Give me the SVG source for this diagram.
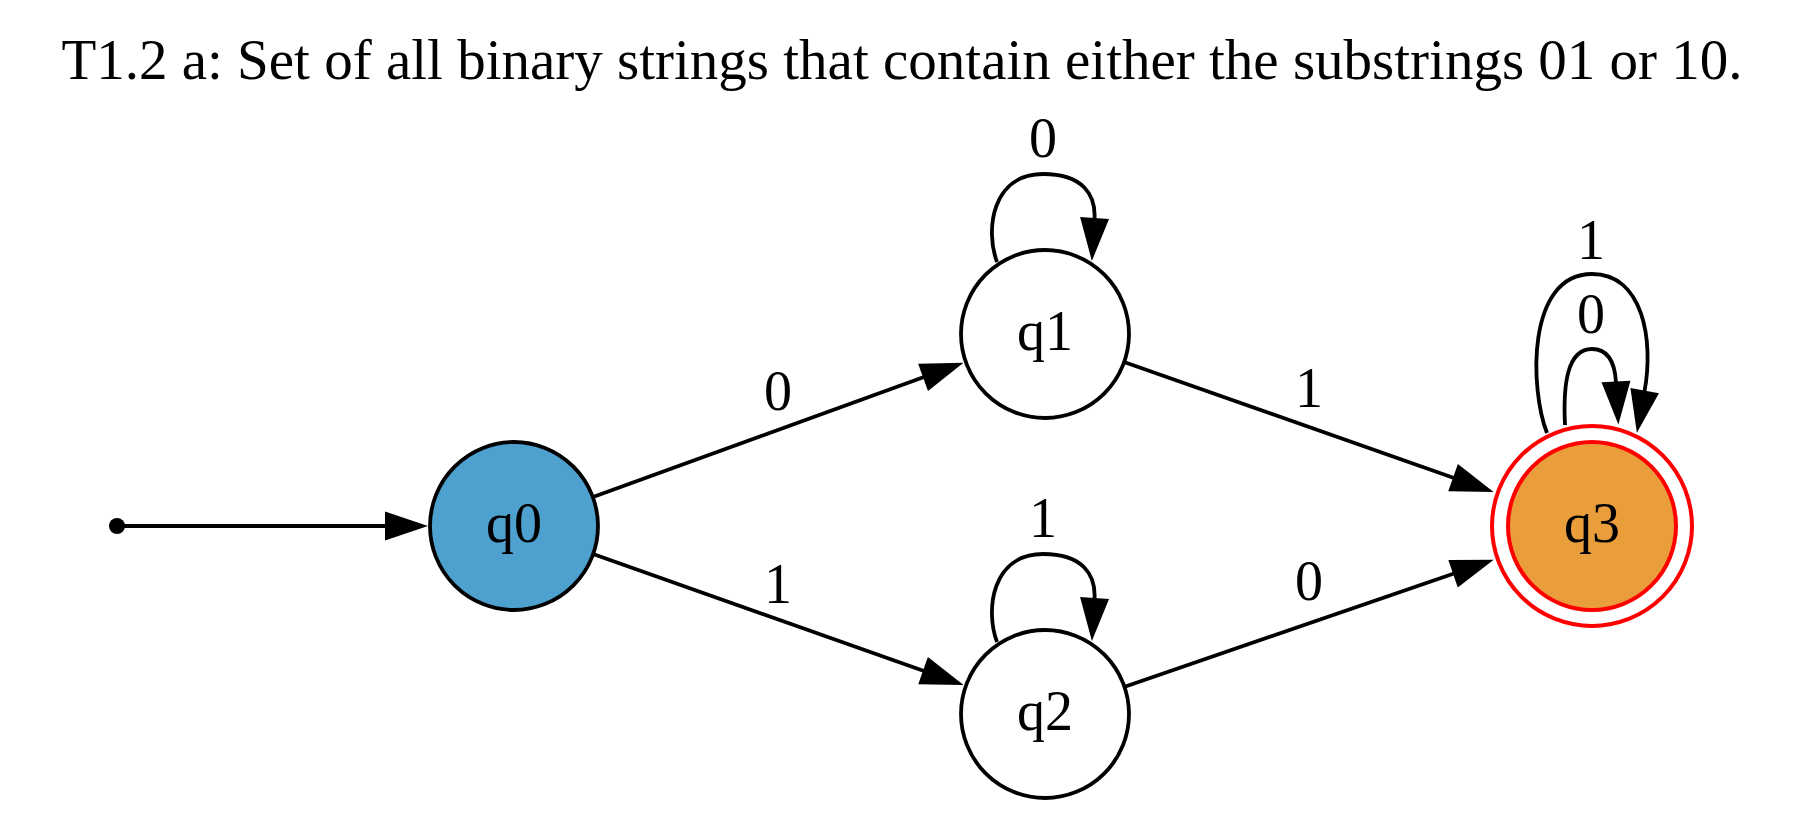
<svg xmlns="http://www.w3.org/2000/svg" width="1804" height="814" viewBox="0 0 1804 814">
<style>
text{font-family:"Liberation Serif","Times New Roman",serif;font-size:56px;fill:#000;text-anchor:middle}
.title{font-size:57px}
.node{stroke:#000;stroke-width:3.8;fill:#fff}
.edge{fill:none;stroke:#000;stroke-width:3.8}
.acc{fill:none;stroke:#ff0000;stroke-width:4}
</style>
<defs>
<marker id="arr" markerUnits="userSpaceOnUse" markerWidth="60" markerHeight="40" refX="0" refY="0" viewBox="-2 -20 60 40" orient="auto" overflow="visible">
<path d="M-1,-14.5 L42,0 L-1,14.5 z" fill="#000"/>
</marker>
</defs>
<rect width="1804" height="814" fill="#fff"/>
<text class="title" x="902" y="79">T1.2 a: Set of all binary strings that contain either the substrings 01 or 10.</text>
<g id="edges">
<g id="start-q0"><circle cx="117" cy="526" r="8" fill="#000"/><path class="edge" d="M117,526 L386,526" marker-end="url(#arr)"/></g>
<g id="q0-q1"><path class="edge" d="M593,497 L924,377" marker-end="url(#arr)"/><text x="778" y="410">0</text></g>
<g id="q0-q2"><path class="edge" d="M593,554 L924,671" marker-end="url(#arr)"/><text x="778" y="603">1</text></g>
<g id="q1-q1"><path class="edge" d="M997,262 C985,230 992,174 1043,174 C1083,174 1096,195 1094.5,219" marker-end="url(#arr)"/><text x="1043" y="157">0</text></g>
<g id="q2-q2"><path class="edge" d="M997,642 C985,610 992,554 1043,554 C1083,554 1096,575 1094.5,599" marker-end="url(#arr)"/><text x="1043" y="537">1</text></g>
<g id="q1-q3"><path class="edge" d="M1124,362 L1454,478" marker-end="url(#arr)"/><text x="1309" y="407">1</text></g>
<g id="q2-q3"><path class="edge" d="M1124,687 L1454,573.5" marker-end="url(#arr)"/><text x="1309" y="600">0</text></g>
<g id="q3-q3-0"><path class="edge" d="M1565,425 C1563,385 1567,349 1592,349 C1610,349 1615,365 1616,382.5" marker-end="url(#arr)"/><text x="1591" y="333">0</text></g>
<g id="q3-q3-1"><path class="edge" d="M1547,433 C1530,390 1526,274 1592,274 C1643,274 1654,340 1644.5,391.5" marker-end="url(#arr)"/><text x="1591" y="259">1</text></g>
</g>
<g id="q0"><circle class="node" cx="514" cy="526" r="84" style="fill:#4ea1cf"/><text x="514" y="541.5">q0</text></g>
<g id="q1"><circle class="node" cx="1045" cy="334" r="84"/><text x="1045" y="349.5">q1</text></g>
<g id="q2"><circle class="node" cx="1045" cy="714" r="84"/><text x="1045" y="729.5">q2</text></g>
<g id="q3"><circle class="acc" cx="1592" cy="526" r="84" style="fill:#ea9e3b"/><circle class="acc" cx="1592" cy="526" r="100"/><text x="1592" y="541.5">q3</text></g>
</svg>
